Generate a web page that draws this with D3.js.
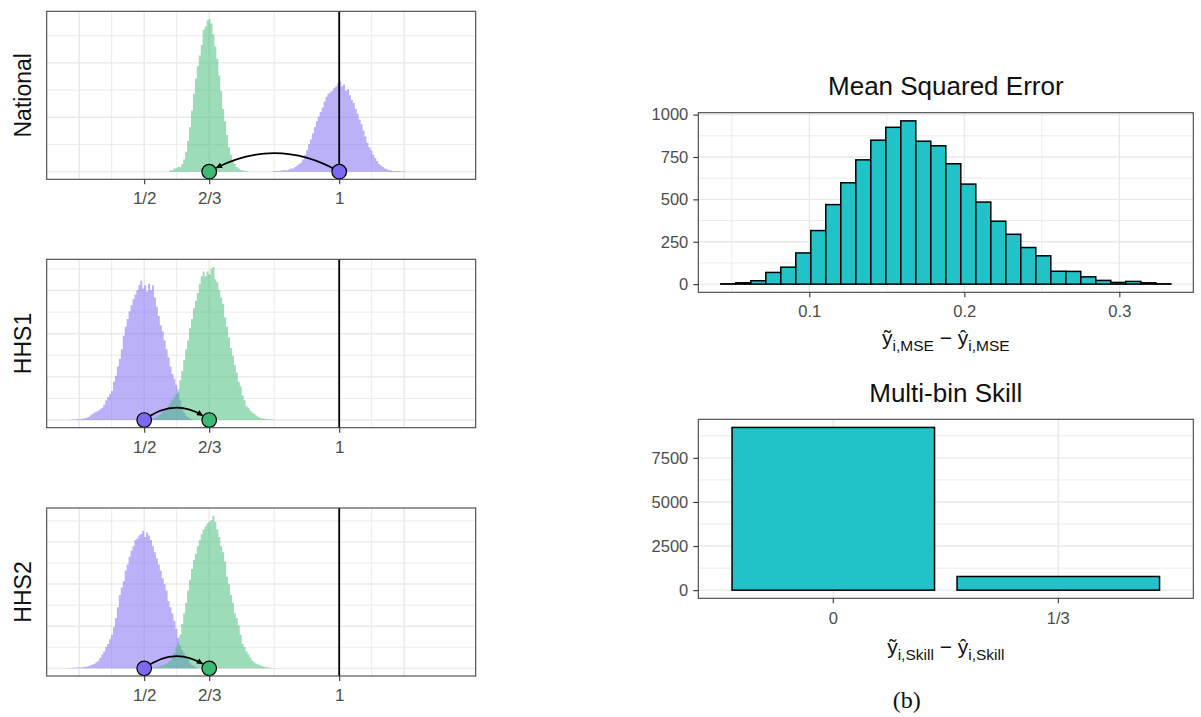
<!DOCTYPE html>
<html>
<head>
<meta charset="utf-8">
<script src="https://cdn.jsdelivr.net/npm/d3@7"></script>
<style>
  body { margin: 0; background: #fff; }
  svg text { font-family: "Liberation Sans", Arial, sans-serif; }
</style>
</head>
<body>
<script>

// left side: one row per region
var rowLabels = ["National", "HHS1", "HHS2"];
var purplePoints = [1, 1/2, 1/2];
var greenPoints = [2/3, 2/3, 2/3];
var leftTicks = [1/2, 2/3, 1];
var leftTickLabels = ["1/2", "2/3", "1"];

// histogram bins (relative density, 100 = tallest bin of the row)
var binWidth = 0.005;
var purpleFrom = [0.830, 0.310, 0.310];
var greenFrom = [0.565, 0.515, 0.515];

var nationalPurple = [0.5,0.5,0.5,0.5,1,1,1,1,1.5,2, 2,3,4,5,6,8,11,14,18,21, 25,29,33,36,39,42,46,49,51,52,
  53,55,56,58,59,56,57,53,54,50, 47,45,41,38,34,31,27,23,19,16, 14,11,9,7,5,4,3,2,1.5,1, 1,0.5,0.5,0.5,0.5,0.3,0.3,0.3];
var nationalGreen = [1,1,2,2,3,3,5,8,13,20, 29,40,51,61,69,76,83,93,95,99, 100,97,90,82,74,63,53,41,33,24,
  16,11,7,5,3,2,1,1,0.5,0.5];
var hhs1Purple = [0.2,0.3,0.3,0.5,0.5,0.6,0.8,1,1.5,2, 3,4,5,5.5,6,7,8,10,13,15, 17,19,25,29,35,40,46,55,61,66,
  71,75,79,82,85,88,91,86,88,84, 89,85,88,80,74,68,62,58,52,46, 41,35,30,27,23,18,13,8,5,3, 2,1,0.5];
var hhs1Green = [0.5,1,1.5,2,3,4,5,6,7,9, 11,13,15,17,20,26,32,39,46,52, 60,66,73,78,83,89,94,97,94,97,
  95,99,100,92,90,85,80,76,67,61, 54,47,42,36,31,25,22,16,13,9, 8,6,5,4,3,2,1.5,1,1,0.5, 0.5,0.3,0.3,0.2];
var hhs2Purple = [0.2,0.4,0.4,0.5,0.5,0.6,0.8,1,1,1.5, 2,2.5,3,4,5,7,9,11,14,16, 19,22,27,33,40,48,53,57,64,68,
  73,77,80,84,85,87,88,90,86,89, 87,84,80,76,72,68,64,59,55,51, 44,40,36,31,26,20,15,12,10,8, 6,3.5,2,1.5,0.8,0.4];
var hhs2Green = [0.3,0.5,0.7,1,1,1.5,2,2.5,3,4, 5,7,10,14,17,22,29,36,43,51, 58,65,71,75,80,84,88,91,93,95,
  96,97,100,96,91,86,80,76,70,60, 55,48,43,36,33,28,22,16,14,11, 9,7,5,4,3,2.5,2,1.5,1,0.7, 0.5,0.4,0.3,0.2];

var purpleBins = [nationalPurple, hhs1Purple, hhs2Purple];
var greenBins = [nationalGreen, hhs1Green, hhs2Green];

// right side: mean squared error histogram (30 bins)
var mseRange = [0.0429, 0.3332];
var mseCounts = [2,8,20,69,100,184,316,469,598,733, 849,925,963,843,816,710,590,484,371,294,
  216,167,76,75,43,22,10,16,8,2];
var mseXTicks = [0.1, 0.2, 0.3];
var mseYTicks = [0, 250, 500, 750, 1000];

// right side: multi-bin skill
var skillCats = ["0", "1/3"];
var skillCounts = [9225, 775];
var skillYTicks = [0, 2500, 5000, 7500];


var purple = "#7a6af2";
var green = "#3cb972";
var teal = "#21c3c9";
var gridCol = "#e9e9e9";

var svg = d3.select("body").append("svg")
    .attr("width", 1201)
    .attr("height", 717);

var defs = svg.append("defs");
defs.append("marker")
    .attr("id", "arrowHead")
    .attr("viewBox", "0 0 10 10")
    .attr("refX", 9)
    .attr("refY", 5)
    .attr("markerUnits", "userSpaceOnUse")
    .attr("markerWidth", 7)
    .attr("markerHeight", 6)
    .attr("orient", "auto")
  .append("path")
    .attr("d", "M0,0L10,5L0,10Z")
    .attr("fill", "#000");

function styleAxis(g, size) {
  g.attr("font-family", "Liberation Sans, Arial, sans-serif")
   .attr("font-size", size);
  g.select(".domain").remove();
  g.selectAll(".tick line").attr("stroke", "#333").attr("stroke-width", 1.1);
  g.selectAll(".tick text").attr("fill", "#4d4d4d");
}

function histPath(values, from, x, y) {
  var pts = values.map(function(v, i) { return [from + i * binWidth, v]; });
  pts.push([from + values.length * binWidth, values[values.length - 1]]);
  return d3.area()
      .curve(d3.curveStepAfter)
      .x(function(d) { return x(d[0]); })
      .y0(y(0))
      .y1(function(d) { return y(d[1]); })(pts);
}

// ---------- left column ----------
var rows = [
  { top: 11.3, bottom: 179.3, gridStep: 17.8, bend: 0.142 },
  { top: 259.3, bottom: 427.7, gridStep: 14.1, bend: 0.19 },
  { top: 508, bottom: 676, gridStep: 13.8, bend: 0.19 }
];
var leftGridMajor = [1/3, 1/2, 2/3, 1, 7/6];
var leftGridMinor = [5/12, 7/12, 5/6, 13/12];
var pointR = 7.3;

var lx = d3.scaleLinear().domain([0.25, 1.35]).range([46.7, 475.7]);

rows.forEach(function(row, k) {
  var ly = d3.scaleLinear().domain([-5, 105]).range([row.bottom, row.top]);
  var g = svg.append("g");

  // grid
  var hLines = [];
  for (var v = 0, i = 0; v <= 105; v += row.gridStep, i++) hLines.push({ v: v, major: i % 2 === 0 });
  g.selectAll(".hgrid").data(hLines).enter().append("line")
      .attr("x1", lx.range()[0]).attr("x2", lx.range()[1])
      .attr("y1", function(d) { return ly(d.v); })
      .attr("y2", function(d) { return ly(d.v); })
      .attr("stroke", gridCol)
      .attr("stroke-width", function(d) { return d.major ? 1.4 : 0.9; });
  g.selectAll(".vgrid").data(leftGridMajor.map(function(d) { return { v: d, major: true }; })
        .concat(leftGridMinor.map(function(d) { return { v: d, major: false }; })))
    .enter().append("line")
      .attr("x1", function(d) { return lx(d.v); })
      .attr("x2", function(d) { return lx(d.v); })
      .attr("y1", row.top).attr("y2", row.bottom)
      .attr("stroke", gridCol)
      .attr("stroke-width", function(d) { return d.major ? 1.4 : 0.9; });

  // histograms
  g.append("path")
      .attr("d", histPath(purpleBins[k], purpleFrom[k], lx, ly))
      .attr("fill", purple)
      .attr("fill-opacity", 0.52);
  g.append("path")
      .attr("d", histPath(greenBins[k], greenFrom[k], lx, ly))
      .attr("fill", green)
      .attr("fill-opacity", 0.5);

  // truth line at 1
  g.append("line")
      .attr("x1", lx(1)).attr("x2", lx(1))
      .attr("y1", row.top).attr("y2", row.bottom)
      .attr("stroke", "#000")
      .attr("stroke-width", 1.8);

  // curved arrow purple -> green
  var p0 = [lx(purplePoints[k]), ly(0)];
  var p2 = [lx(greenPoints[k]), ly(0)];
  var sag = row.bend * Math.abs(p2[0] - p0[0]);
  var p1 = [(p0[0] + p2[0]) / 2, ly(0) - 2 * sag];
  function bez(t) {
    var a = (1 - t) * (1 - t), b = 2 * t * (1 - t), c = t * t;
    return [a * p0[0] + b * p1[0] + c * p2[0], a * p0[1] + b * p1[1] + c * p2[1]];
  }
  var t = 1;
  while (t > 0) {
    var q = bez(t);
    if (Math.hypot(q[0] - p2[0], q[1] - p2[1]) >= pointR + 0.8) break;
    t -= 0.002;
  }
  var c1 = [p0[0] + t * (p1[0] - p0[0]), p0[1] + t * (p1[1] - p0[1])];
  var e = bez(t);
  g.append("path")
      .attr("d", "M" + p0[0] + "," + p0[1] + "Q" + c1[0] + "," + c1[1] + " " + e[0] + "," + e[1])
      .attr("fill", "none")
      .attr("stroke", "#000")
      .attr("stroke-width", 1.7)
      .attr("marker-end", "url(#arrowHead)");

  // points
  g.append("circle")
      .attr("cx", lx(purplePoints[k])).attr("cy", ly(0)).attr("r", pointR)
      .attr("fill", purple).attr("stroke", "#000").attr("stroke-width", 1.2);
  g.append("circle")
      .attr("cx", lx(greenPoints[k])).attr("cy", ly(0)).attr("r", pointR)
      .attr("fill", green).attr("stroke", "#000").attr("stroke-width", 1.2);

  // border
  g.append("rect")
      .attr("x", lx.range()[0]).attr("y", row.top)
      .attr("width", lx.range()[1] - lx.range()[0])
      .attr("height", row.bottom - row.top)
      .attr("fill", "none")
      .attr("stroke", "#444")
      .attr("stroke-width", 1.1);

  // x axis
  var ax = svg.append("g")
      .attr("transform", "translate(0," + row.bottom + ")")
      .call(d3.axisBottom(lx).tickValues(leftTicks).tickSize(5).tickPadding(8)
        .tickFormat(function(d, i) { return leftTickLabels[i]; }));
  styleAxis(ax, 17);

  // row label
  svg.append("text")
      .attr("transform", "translate(31," + (row.top + row.bottom) / 2 + ") rotate(-90)")
      .attr("text-anchor", "middle")
      .attr("font-size", 23)
      .attr("fill", "#111")
      .text(rowLabels[k]);
});

// ---------- right column ----------
var rx0 = 698.3, rx1 = 1193.3;

function axisLabel(y, sub) {
  var t = svg.append("text")
      .attr("x", (rx0 + rx1) / 2)
      .attr("y", y)
      .attr("text-anchor", "middle")
      .attr("fill", "#111");
  t.append("tspan").attr("font-size", 21).text("ỹ");
  t.append("tspan").attr("font-size", 15.5).attr("dy", 6).text(sub);
  t.append("tspan").attr("font-size", 21).attr("dy", -6).text(" − ");
  t.append("tspan").attr("font-size", 21).text("ŷ");
  t.append("tspan").attr("font-size", 15.5).attr("dy", 6).text(sub);
}

// Mean squared error
var mTop = 112.7, mBot = 292.3;
var mSpan = mseRange[1] - mseRange[0];
var mseW = mSpan / mseCounts.length;
var mx = d3.scaleLinear()
    .domain([mseRange[0] - 0.05 * mSpan, mseRange[1] + 0.05 * mSpan])
    .range([rx0, rx1]);
var mMax = d3.max(mseCounts);
var my = d3.scaleLinear().domain([-0.05 * mMax, 1.05 * mMax]).range([mBot, mTop]);

var mg = svg.append("g");
[0.05, 0.15, 0.25].forEach(function(v) {
  mg.append("line").attr("x1", mx(v)).attr("x2", mx(v)).attr("y1", mTop).attr("y2", mBot)
    .attr("stroke", gridCol).attr("stroke-width", 0.9);
});
mseXTicks.forEach(function(v) {
  mg.append("line").attr("x1", mx(v)).attr("x2", mx(v)).attr("y1", mTop).attr("y2", mBot)
    .attr("stroke", gridCol).attr("stroke-width", 1.4);
});
[125, 375, 625, 875].forEach(function(v) {
  mg.append("line").attr("x1", rx0).attr("x2", rx1).attr("y1", my(v)).attr("y2", my(v))
    .attr("stroke", gridCol).attr("stroke-width", 0.9);
});
mseYTicks.forEach(function(v) {
  mg.append("line").attr("x1", rx0).attr("x2", rx1).attr("y1", my(v)).attr("y2", my(v))
    .attr("stroke", gridCol).attr("stroke-width", 1.4);
});

mg.selectAll(".bar").data(mseCounts).enter().append("rect")
    .attr("x", function(d, i) { return mx(mseRange[0] + i * mseW); })
    .attr("width", function(d, i) { return mx(mseRange[0] + (i + 1) * mseW) - mx(mseRange[0] + i * mseW); })
    .attr("y", function(d) { return my(d); })
    .attr("height", function(d) { return my(0) - my(d); })
    .attr("fill", teal)
    .attr("stroke", "#000")
    .attr("stroke-width", 1.5);

mg.append("rect")
    .attr("x", rx0).attr("y", mTop).attr("width", rx1 - rx0).attr("height", mBot - mTop)
    .attr("fill", "none").attr("stroke", "#444").attr("stroke-width", 1.1);

var mxa = svg.append("g").attr("transform", "translate(0," + mBot + ")")
    .call(d3.axisBottom(mx).tickValues(mseXTicks).tickSize(5).tickPadding(8).tickFormat(d3.format(".1f")));
styleAxis(mxa, 16.5);
var mya = svg.append("g").attr("transform", "translate(" + rx0 + ",0)")
    .call(d3.axisLeft(my).tickValues(mseYTicks).tickSize(5).tickPadding(5).tickFormat(d3.format("d")));
styleAxis(mya, 16.5);

svg.append("text")
    .attr("x", (rx0 + rx1) / 2).attr("y", 95)
    .attr("text-anchor", "middle")
    .attr("font-size", 26)
    .attr("fill", "#111")
    .text("Mean Squared Error");
axisLabel(345, "i,MSE");

// Multi-bin skill
var sTop = 419.3, sBot = 598.3;
var sx = d3.scaleBand().domain(skillCats).range([rx0, rx1]).paddingInner(0.1).paddingOuter(0.15);
var sMax = d3.max(skillCounts);
var sy = d3.scaleLinear().domain([-0.05 * sMax, 1.05 * sMax]).range([sBot, sTop]);

var sg = svg.append("g");
skillCats.forEach(function(c) {
  var cx = sx(c) + sx.bandwidth() / 2;
  sg.append("line").attr("x1", cx).attr("x2", cx).attr("y1", sTop).attr("y2", sBot)
    .attr("stroke", gridCol).attr("stroke-width", 1.4);
});
[1250, 3750, 6250, 8750].forEach(function(v) {
  sg.append("line").attr("x1", rx0).attr("x2", rx1).attr("y1", sy(v)).attr("y2", sy(v))
    .attr("stroke", gridCol).attr("stroke-width", 0.9);
});
skillYTicks.forEach(function(v) {
  sg.append("line").attr("x1", rx0).attr("x2", rx1).attr("y1", sy(v)).attr("y2", sy(v))
    .attr("stroke", gridCol).attr("stroke-width", 1.4);
});

sg.selectAll(".sbar").data(skillCounts).enter().append("rect")
    .attr("x", function(d, i) { return sx(skillCats[i]); })
    .attr("width", sx.bandwidth())
    .attr("y", function(d) { return sy(d); })
    .attr("height", function(d) { return sy(0) - sy(d); })
    .attr("fill", teal)
    .attr("stroke", "#000")
    .attr("stroke-width", 1.5);

sg.append("rect")
    .attr("x", rx0).attr("y", sTop).attr("width", rx1 - rx0).attr("height", sBot - sTop)
    .attr("fill", "none").attr("stroke", "#444").attr("stroke-width", 1.1);

var sxa = svg.append("g").attr("transform", "translate(0," + sBot + ")")
    .call(d3.axisBottom(sx).tickSize(5).tickPadding(8.5));
styleAxis(sxa, 16.5);
var sya = svg.append("g").attr("transform", "translate(" + rx0 + ",0)")
    .call(d3.axisLeft(sy).tickValues(skillYTicks).tickSize(5).tickPadding(5).tickFormat(d3.format("d")));
styleAxis(sya, 16.5);

svg.append("text")
    .attr("x", (rx0 + rx1) / 2).attr("y", 401.7)
    .attr("text-anchor", "middle")
    .attr("font-size", 26)
    .attr("fill", "#111")
    .text("Multi-bin Skill");
axisLabel(654, "i,Skill");

// sub-figure tag
svg.append("text")
    .attr("x", 906.7).attr("y", 708)
    .attr("text-anchor", "middle")
    .attr("font-size", 24)
    .style("font-family", "'Liberation Serif', 'DejaVu Serif', serif")
    .attr("fill", "#111")
    .text("(b)");

</script>
</body>
</html>
